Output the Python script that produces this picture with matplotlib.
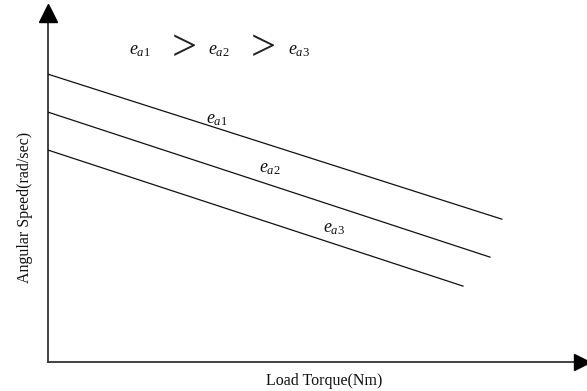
import matplotlib
matplotlib.use("Agg")
import matplotlib.pyplot as plt

plt.rcParams['mathtext.fontset'] = 'custom'
plt.rcParams['mathtext.it'] = 'Liberation Serif:italic'
plt.rcParams['mathtext.rm'] = 'Liberation Serif'

# Speed-torque characteristics for three armature voltages (e_a1 > e_a2 > e_a3)
series_labels = [r'$e_{\mathit{a1}}$', r'$e_{\mathit{a2}}$', r'$e_{\mathit{a3}}$']
torque_start = [0.0, 0.0, 0.0]
torque_end = [8.42, 8.20, 7.70]
speed_noload = [8.04, 6.98, 5.92]
speed_end = [3.99, 2.93, 2.12]
label_pos = [(3.14, 6.79), (4.12, 5.42), (5.31, 3.74)]

W, H = 587, 391
fig = plt.figure(figsize=(W / 100, H / 100), dpi=100)
ax = fig.add_axes([48 / W, (H - 362) / H, (W - 48) / W, (362 - 4) / H])
ax.set_xlim(0, 10)
ax.set_ylim(0, 10)
for s in ax.spines.values():
    s.set_visible(False)
ax.set_xticks([])
ax.set_yticks([])
ax.patch.set_alpha(0)

# axes drawn as arrows
axis_col = '#333333'
ax.plot([0, 0], [0, 0.955], transform=ax.transAxes, color=axis_col, lw=1.3, clip_on=False)
ax.plot([0, 0.975], [0, 0], transform=ax.transAxes, color=axis_col, lw=1.3, clip_on=False)
ax.plot([0], [0.975], marker='^', ms=12.5, color='black', transform=ax.transAxes, clip_on=False)
ax.plot([0.99], [0], marker='>', ms=11, color='black', transform=ax.transAxes, clip_on=False)

for t0, t1, w0, w1 in zip(torque_start, torque_end, speed_noload, speed_end):
    ax.plot([t0, t1], [w0, w1], color='#111111', lw=0.9)

for lab, (x, y) in zip(series_labels, label_pos):
    ax.text(x, y, lab, fontsize=13, ha='center', va='center', color='#111111')

# ordering annotation e_a1 > e_a2 > e_a3
top_y = 8.72
ax.text(1.71, top_y, series_labels[0], fontsize=13, ha='center', va='center', color='#111111')
ax.text(2.53, top_y + 0.02, '>', fontsize=32, ha='center', va='center',
        family='Liberation Serif', color='#222222')
ax.text(3.17, top_y, series_labels[1], fontsize=13, ha='center', va='center', color='#111111')
ax.text(4.0, top_y + 0.02, '>', fontsize=32, ha='center', va='center',
        family='Liberation Serif', color='#222222')
ax.text(4.66, top_y, series_labels[2], fontsize=13, ha='center', va='center', color='#111111')

fig.text(324 / W, 1 - 381 / H, 'Load Torque(Nm)', fontsize=11.5, family='Liberation Serif',
         ha='center', va='center', color='#111111')
fig.text(25 / W, 1 - 207 / H, 'Angular Speed(rad/sec)', fontsize=11.5, family='Liberation Serif',
         ha='center', va='center', rotation=90, color='#111111')

fig.savefig('out.png', dpi=100)
